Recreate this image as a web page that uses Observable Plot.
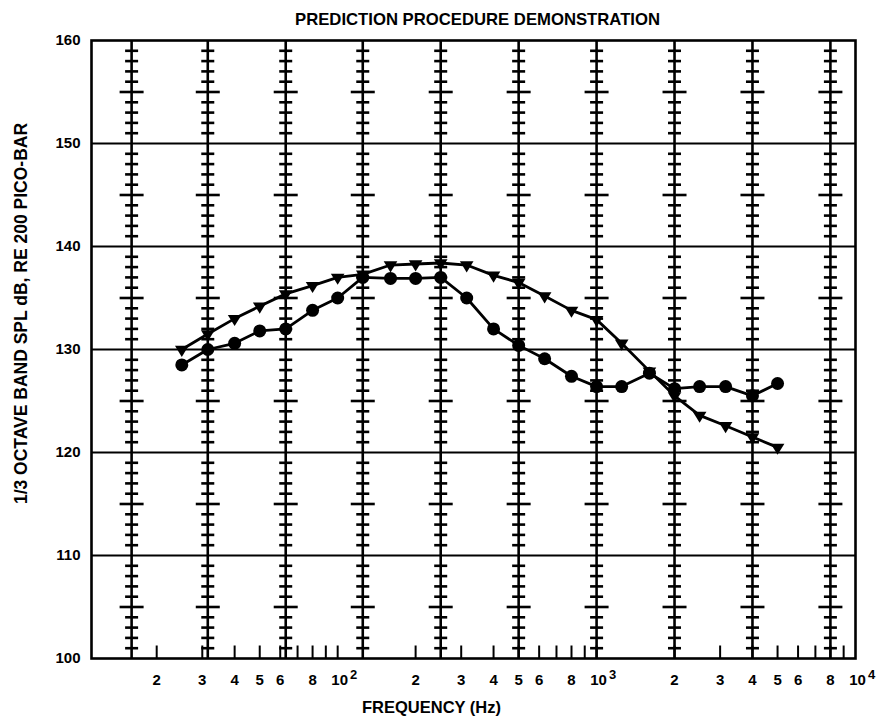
<!DOCTYPE html>
<html>
<head>
<meta charset="utf-8">
<script src="https://cdn.jsdelivr.net/npm/d3@7"></script>
<script src="https://cdn.jsdelivr.net/npm/@observablehq/plot@0.6"></script>
<style>
  html, body { margin: 0; padding: 0; background: #fff; }
  #chart svg { display: block; }
</style>
</head>
<body>
<div id="chart"></div>
<script>
// 1/3-octave band centre frequencies (Hz)
const freqs = [25, 31.5, 40, 50, 63, 80, 100, 125, 160, 200, 250, 315, 400, 500, 630, 800, 1000, 1250, 1600, 2000, 2500, 3150, 4000, 5000];
// series drawn with filled circles
const circleSPL = [128.5, 130.0, 130.6, 131.8, 132.0, 133.8, 135.0, 137.0, 136.9, 136.9, 137.0, 135.0, 132.0, 130.4, 129.1, 127.4, 126.4, 126.4, 127.7, 126.2, 126.4, 126.4, 125.5, 126.7];
// series drawn with inverted triangles
const triangleSPL = [130.0, 131.5, 133.0, 134.2, 135.4, 136.2, 137.0, 137.3, 138.2, 138.3, 138.4, 138.2, 137.2, 136.5, 135.2, 133.8, 132.9, 130.6, 127.9, 125.5, 123.6, 122.6, 121.5, 120.5];

// octave-band rulers (thick vertical lines with dB dashes)
const octaveFreqs = [16, 31.5, 63, 125, 250, 500, 1000, 2000, 4000, 8000];
// short minor ticks rising from the bottom edge
const minorTicks = [20, 30, 40, 50, 60, 70, 80, 90, 100, 200, 300, 400, 500, 600, 700, 800, 900, 1000, 2000, 3000, 4000, 5000, 6000, 7000, 8000, 9000];
// labelled x ticks
const xTickValues = [20, 30, 40, 50, 60, 80, 200, 300, 400, 500, 600, 800, 2000, 3000, 4000, 5000, 6000, 8000];
const xTickLabels = ["2", "3", "4", "5", "6", "8", "2", "3", "4", "5", "6", "8", "2", "3", "4", "5", "6", "8"];
// decade labels: base "10" with exponent
const decadeValues = [100, 1000, 10000];
const decadeExponents = ["2", "3", "4"];
// y ticks and grid
const yTicks = [100, 110, 120, 130, 140, 150, 160];
const yGrid = [110, 120, 130, 140, 150];
// dB dash positions on each ruler (every 1 dB, longer every 5 dB)
const dashDB = d3.range(101, 160).filter(v => v % 10 !== 0);

const title = "PREDICTION PROCEDURE DEMONSTRATION";
const xTitle = "FREQUENCY (Hz)";
const yTitle = "1/3 OCTAVE BAND SPL dB, RE 200 PICO-BAR";

const circleData = freqs.map((f, i) => ({f, v: circleSPL[i]}));
const triangleData = freqs.map((f, i) => ({f, v: triangleSPL[i]}));
const shortDash = octaveFreqs.flatMap(f => dashDB.filter(v => v % 5 !== 0).map(v => ({f, v})));
const longDash = octaveFreqs.flatMap(f => dashDB.filter(v => v % 5 === 0).map(v => ({f, v})));

// custom symbols
const hDash = {draw(ctx, size) { const r = Math.sqrt(size / Math.PI); ctx.moveTo(-r, 0); ctx.lineTo(r, 0); }};
const vUp = {draw(ctx, size) { const r = Math.sqrt(size / Math.PI); ctx.moveTo(0, 0); ctx.lineTo(0, -2 * r); }};
const triDown = {draw(ctx, size) {
  const r = Math.sqrt(size / Math.PI);
  ctx.moveTo(-1.1 * r, -0.6 * r); ctx.lineTo(1.1 * r, -0.6 * r); ctx.lineTo(0, 1.2 * r); ctx.closePath();
}};

const font = "'Liberation Sans', Arial, Helvetica, sans-serif";

const chart = Plot.plot({
  width: 881,
  height: 722,
  marginLeft: 91,
  marginRight: 26,
  marginTop: 40,
  marginBottom: 64,
  style: {fontFamily: font, fontWeight: "bold", background: "#fff", color: "#000", overflow: "visible"},
  x: {type: "log", domain: [11.2, 10000], axis: null},
  y: {domain: [100, 160], axis: null},
  marks: [
    Plot.ruleY(yGrid, {stroke: "#000", strokeWidth: 1.8}),
    Plot.ruleX(octaveFreqs, {stroke: "#000", strokeWidth: 2.6}),
    Plot.dot(shortDash, {x: "f", y: "v", symbol: hDash, r: 6.5, fill: "none", stroke: "#000", strokeWidth: 2.6}),
    Plot.dot(longDash, {x: "f", y: "v", symbol: hDash, r: 12, fill: "none", stroke: "#000", strokeWidth: 2.6}),
    Plot.dot(minorTicks, {x: d => d, y: () => 100, symbol: vUp, r: 6.5, fill: "none", stroke: "#000", strokeWidth: 2}),
    Plot.frame({stroke: "#000", strokeWidth: 2.6}),
    Plot.line(circleData, {x: "f", y: "v", stroke: "#000", strokeWidth: 2.8}),
    Plot.line(triangleData, {x: "f", y: "v", stroke: "#000", strokeWidth: 2.8}),
    Plot.dot(circleData, {x: "f", y: "v", r: 6.5, fill: "#000", stroke: "none"}),
    Plot.dot(triangleData, {x: "f", y: "v", symbol: triDown, r: 6.2, fill: "#000", stroke: "none"}),
    Plot.axisY(yTicks, {tickSize: 0, tickPadding: 11, fontSize: 15, fontWeight: "bold", label: null}),
    Plot.text(xTickValues, {x: d => d, text: (d, i) => xTickLabels[i], frameAnchor: "bottom", dy: 26, fontSize: 15, fontWeight: "bold"}),
    Plot.text(decadeValues, {x: d => d, text: () => "10", frameAnchor: "bottom", dy: 26, dx: 2, fontSize: 15, fontWeight: "bold"}),
    Plot.text(decadeValues, {x: d => d, text: (d, i) => decadeExponents[i], frameAnchor: "bottom", dy: 20, dx: 16, fontSize: 13, fontWeight: "bold"}),
    Plot.text([title], {text: d => d, frameAnchor: "top", textAnchor: "middle", dx: 4, dy: -27, fontSize: 16.7, fontWeight: "bold"}),
    Plot.text([xTitle], {text: d => d, frameAnchor: "bottom", textAnchor: "middle", dx: -42, dy: 54, fontSize: 16.5, fontWeight: "bold"}),
    Plot.text([yTitle], {text: d => d, frameAnchor: "left", textAnchor: "middle", dx: -70, dy: -36, rotate: -90, fontSize: 17.5, fontWeight: "bold"})
  ]
});
document.getElementById("chart").appendChild(chart);
</script>
</body>
</html>
